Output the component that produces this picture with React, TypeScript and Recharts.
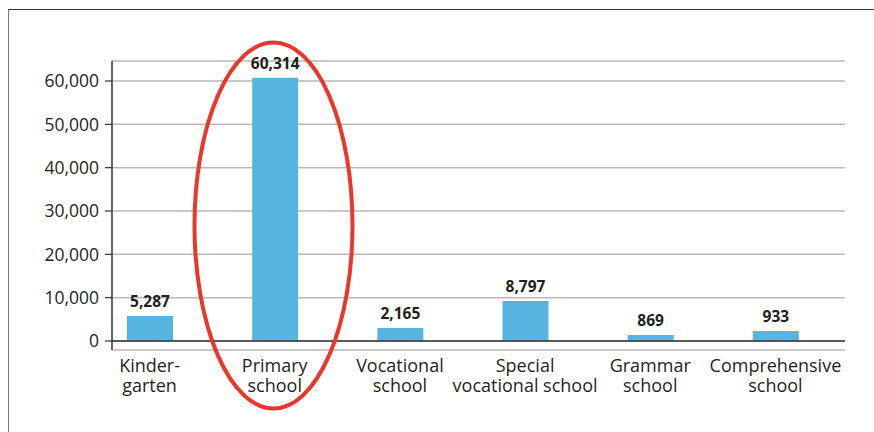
import React from 'react';
import { BarChart, Bar, XAxis, YAxis, CartesianGrid, ReferenceLine, LabelList } from 'recharts';

// categories, two lines each
const categories = [
  'Kinder-\ngarten',
  'Primary\nschool',
  'Vocational\nschool',
  'Special\nvocational school',
  'Grammar\nschool',
  'Comprehensive\nschool',
];
// bar heights as drawn in the picture
const barHeights = [5770, 60770, 3000, 9230, 1390, 2300];
// printed value labels
const valueLabels = ['5,287', '60,314', '2,165', '8,797', '869', '933'];
const yTicks = [0, 10000, 20000, 30000, 40000, 50000, 60000];

const data = categories.map((c, i) => ({ name: c, value: barHeights[i], label: valueLabels[i] }));

const FONT = '"Open Sans", "Noto Sans", sans-serif';
const TEXT = '#231f20';

const CategoryTick = ({ x, y, payload }: any) => {
  const lines = String(payload.value).split('\n');
  return (
    <g>
      {lines.map((l, i) => (
        <text key={i} x={x} y={y + 22 + i * 20} textAnchor="middle" fill={TEXT} fontSize={18} fontFamily={FONT}>
          {l}
        </text>
      ))}
    </g>
  );
};

export default function App() {
  return (
    <div style={{ position: 'absolute', left: 0, top: 0, width: 874, height: 432, background: '#fff', overflow: 'hidden' }}>
      <div style={{ position: 'absolute', left: 8, top: 9, width: 900, height: 500, borderTop: '1.5px solid #333', borderLeft: '1.5px solid #777' }} />
      <div style={{ position: 'absolute', left: 0, top: 0 }}>
        <BarChart width={874} height={432} data={data} margin={{ top: 61, right: 29, bottom: 22, left: 0 }}>
          <CartesianGrid vertical={false} stroke="#b9b9b9" strokeWidth={1.5} />
          <XAxis
            dataKey="name"
            axisLine={false}
            tickLine={false}
            tickSize={0}
            tickMargin={0}
            height={60}
            interval={0}
            padding={{ left: -25, right: 7 }}
            tick={<CategoryTick />}
          />
          <YAxis
            type="number"
            domain={[-2077, 64615]}
            allowDataOverflow
            ticks={yTicks}
            width={112}
            tickSize={7}
            tickMargin={6}
            axisLine={{ stroke: '#333', strokeWidth: 1.5 }}
            tickLine={{ stroke: '#333', strokeWidth: 1.2 }}
            tick={{ fill: TEXT, fontSize: 17.5, fontFamily: FONT }}
            tickFormatter={(v: number) => v.toLocaleString('en-US')}
          />
          <ReferenceLine y={0} stroke="#333" strokeWidth={1.5} />
          <Bar dataKey="value" fill="#55b5e0" barSize={46} isAnimationActive={false}>
            <LabelList
              dataKey="label"
              position="top"
              offset={9}
              fill={TEXT}
              style={{ fontSize: 15.5, fontWeight: 700, fontFamily: FONT }}
            />
          </Bar>
        </BarChart>
      </div>
      <svg width={874} height={432} style={{ position: 'absolute', left: 0, top: 0, pointerEvents: 'none' }}>
        <ellipse cx={273.5} cy={225.5} rx={79} ry={183} fill="none" stroke="#e8382e" strokeWidth={4} />
      </svg>
    </div>
  );
}
